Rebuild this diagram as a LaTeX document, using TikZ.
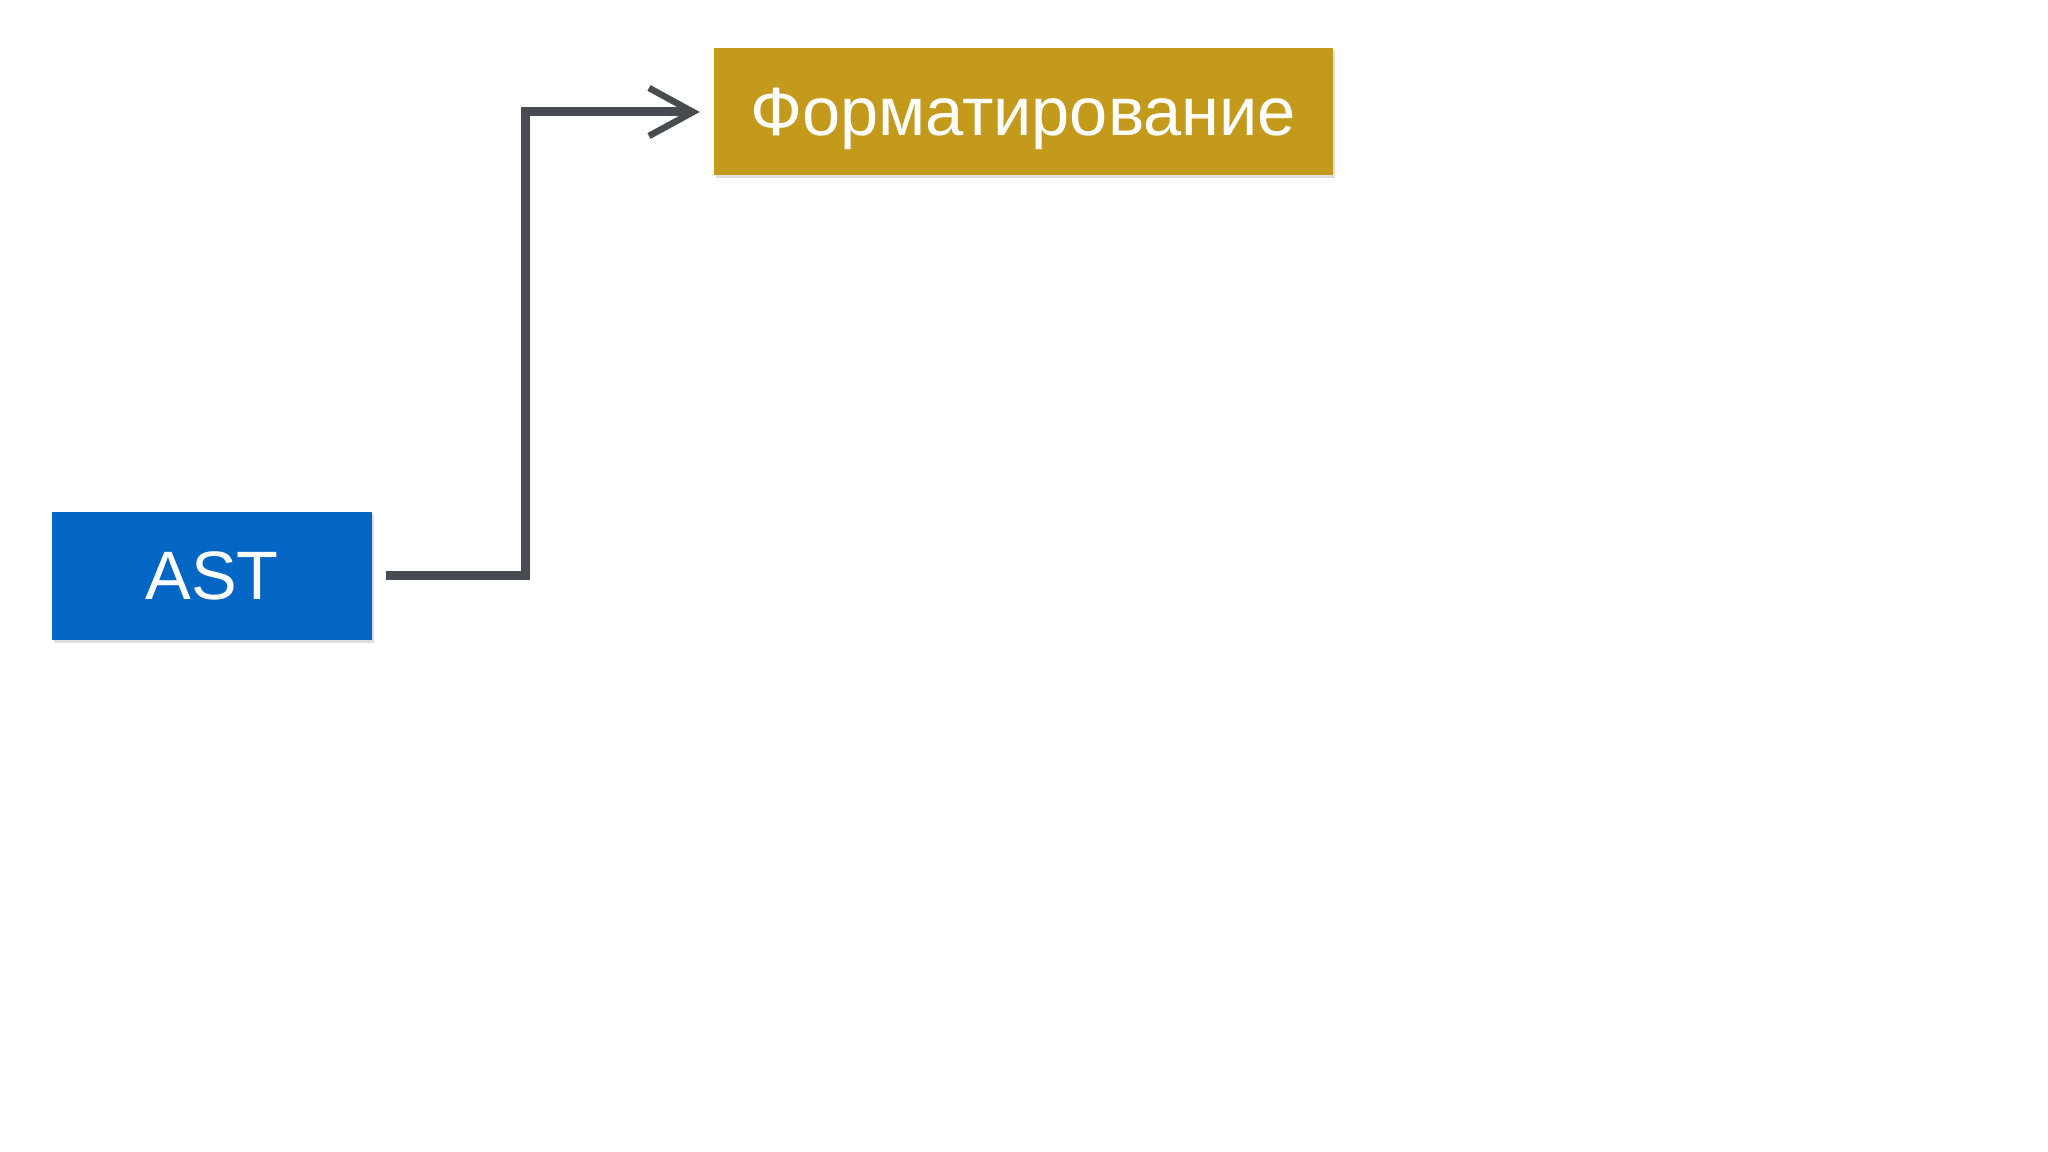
\documentclass[tikz,border=0pt]{standalone}
\usepackage{fontspec}
\setmainfont{Liberation Sans}
\usepackage{tikz}
\usetikzlibrary{arrows.meta}
\usetikzlibrary{shadows}
\definecolor{astblue}{HTML}{0366C4}
\definecolor{fmtgold}{HTML}{C39A1C}
\definecolor{chalk}{HTML}{4A4B50}
\newcommand{\pagesizex}{20.48}
\newcommand{\pagesizey}{11.52}
\newcommand{\astsizex}{3.20cm}
\newcommand{\astsizey}{1.28cm}
\newcommand{\fmtsizex}{6.19cm}
\newcommand{\fmtsizey}{1.27cm}
\newcommand{\arrowgap}{0.13cm}
\tikzset{
  stagebox/.style={draw=none,text=white,inner sep=0pt,
    font=\fontsize{19.5}{22}\selectfont,
    drop shadow={shadow xshift=0.02cm,shadow yshift=-0.03cm,opacity=0.25}},
  flow/.style={draw=chalk,line width=0.09cm,
    -{Straight Barb[length=0.44cm,width=0.48cm,line width=0.065cm]}}
}
\begin{document}
\begin{tikzpicture}
    \useasboundingbox (0,0) rectangle (\pagesizex,\pagesizey);
    % ast part
    \node[stagebox,fill=astblue,minimum width=\astsizex,minimum height=\astsizey]
      (ast) at (2.122,5.76) {AST};
    % formatting part
    \node[stagebox,fill=fmtgold,minimum width=\fmtsizex,minimum height=\fmtsizey,
      text depth=0pt] (fmt) at (10.23,10.40) {Форматирование};
    % connector
    \draw[flow] ([xshift=\arrowgap]ast.east) -- ++(1.40,0)
      |- ([xshift=-\arrowgap]fmt.west);
  \end{tikzpicture}
\end{document}
